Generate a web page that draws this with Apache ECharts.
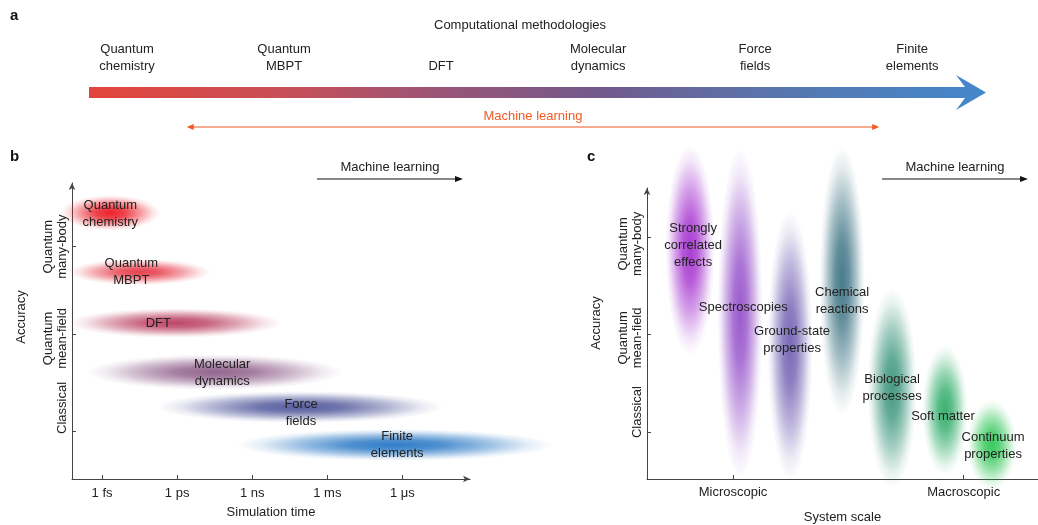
<!DOCTYPE html>
<html>
<head>
<meta charset="utf-8">
<script src="https://cdn.jsdelivr.net/npm/echarts@6/dist/echarts.min.js"></script>
<style>
  html, body { margin: 0; padding: 0; background: #fff; }
  #chart { width: 1038px; height: 525px; }
</style>
</head>
<body>
<div id="chart"></div>
<script>
// a: computational methodologies along the scale arrow
const methodNames = ['Quantum\nchemistry', 'Quantum\nMBPT', 'DFT', 'Molecular\ndynamics', 'Force\nfields', 'Finite\nelements'];
const methodPos = [1, 2, 3, 4, 5, 6];
const mlRange = [1.38, 5.79];

// b: accuracy vs simulation time
const timeTicks = [1, 2, 3, 4, 5];
const timeLabels = ['1 fs', '1 ps', '1 ns', '1 ms', '1 μs'];
const accNames = ['Classical', 'Quantum\nmean-field', 'Quantum\nmany-body'];
const accTicksB = [1.6, 4.9, 7.85];
const accLabelPosB = [2.4, 4.75, 7.85];
const bX = [1.11, 1.50, 1.97, 2.50, 3.64, 4.90];
const bY = [8.99, 6.99, 5.27, 3.61, 2.43, 1.15];
const bSpreadX = [0.66, 0.95, 1.42, 1.70, 1.90, 2.10];
const bSpreadY = [0.60, 0.44, 0.50, 0.60, 0.54, 0.54];
const bLabelX = [1.11, 1.39, 1.75, 2.60, 3.65, 4.93];
const bLabelY = [8.95, 6.99, 5.27, 3.58, 2.23, 1.15];

// c: accuracy vs system scale
const scaleTicks = [2.2, 8.1];
const scaleLabels = ['Microscopic', 'Macroscopic'];
const accTicksC = [1.62, 4.98, 8.32];
const accLabelPosC = [2.3, 4.85, 8.08];
const appNames = ['Strongly\ncorrelated\neffects', 'Spectroscopies', 'Ground-state\nproperties', 'Chemical\nreactions', 'Biological\nprocesses', 'Soft matter', 'Continuum\nproperties'];
const cX = [1.10, 2.38, 3.66, 4.99, 6.27, 7.62, 8.82];
const cY = [7.87, 5.70, 4.60, 6.80, 3.13, 2.37, 1.17];
const cSpreadX = [0.63, 0.58, 0.58, 0.58, 0.63, 0.58, 0.63];
const cSpreadY = [3.61, 5.67, 4.64, 4.64, 3.44, 2.23, 1.55];
const cLabelX = [1.18, 2.46, 3.71, 4.99, 6.27, 7.57, 8.85];
const cLabelY = [8.04, 5.91, 4.78, 6.12, 3.13, 2.16, 1.13];

// colours [r, g, b, alpha]
const bColors = [[235, 35, 45, 1], [228, 45, 60, 0.9], [178, 40, 78, 0.85], [122, 64, 116, 0.8], [58, 66, 142, 0.85], [38, 118, 196, 0.95]];
const cColors = [[160, 40, 205, 0.9], [138, 62, 196, 0.85], [98, 80, 170, 0.85], [40, 100, 118, 0.85], [38, 138, 108, 0.85], [38, 168, 98, 0.9], [38, 195, 78, 0.9]];

const FONT = 'Liberation Sans, Arial, sans-serif';
const INK = '#222';
const AXIS = '#444';

function pick(vals, names) {
  return function (v) {
    const i = vals.findIndex(x => Math.abs(x - v) < 1e-6);
    return i < 0 ? '' : names[i];
  };
}

function glow(c) {
  const f = k => 'rgba(' + c[0] + ',' + c[1] + ',' + c[2] + ',' + (c[3] * k).toFixed(3) + ')';
  return {
    type: 'radial', x: 0.5, y: 0.5, r: 0.5,
    colorStops: [
      { offset: 0, color: f(1) },
      { offset: 0.3, color: f(0.85) },
      { offset: 0.6, color: f(0.48) },
      { offset: 0.85, color: f(0.13) },
      { offset: 1, color: f(0) }
    ]
  };
}

function blobs(names, colors) {
  return function (params, api) {
    const i = params.dataIndex;
    const c = api.coord([api.value(0), api.value(1)]);
    const s = api.size([api.value(2), api.value(3)]);
    const l = api.coord([api.value(4), api.value(5)]);
    return {
      type: 'group',
      children: [
        {
          type: 'circle', x: c[0], y: c[1], scaleX: s[0] / 50, scaleY: s[1] / 50,
          shape: { cx: 0, cy: 0, r: 50 }, style: { fill: glow(colors[i]) }
        },
        {
          type: 'text', x: l[0], y: l[1], z2: 10,
          style: { text: names[i], fill: INK, font: '13px ' + FONT, lineHeight: 17, align: 'center', verticalAlign: 'middle' }
        }
      ]
    };
  };
}

function zip(a, b, c, d, e, f) {
  return a.map((v, i) => [v, b[i], c[i], d[i], e[i], f[i]]);
}

function arrow(x1, x2, y, color, text) {
  return [
    { type: 'line', shape: { x1: x1, y1: y, x2: x2 - 6, y2: y }, style: { stroke: color, lineWidth: 1 } },
    { type: 'polygon', shape: { points: [[x2, y], [x2 - 8, y - 3], [x2 - 8, y + 3]] }, style: { fill: color } },
    { type: 'text', x: (x1 + x2) / 2, y: y - 12, style: { text: text, fill: INK, font: '13px ' + FONT, align: 'center', verticalAlign: 'middle' } }
  ];
}

const chart = echarts.init(document.getElementById('chart'));

const yAcc = (grid, ticks, labelPos, gapPad) => ({
  gridIndex: grid, type: 'value', min: 0, max: 10,
  name: 'Accuracy', nameLocation: 'middle', nameGap: 44,
  nameTextStyle: { color: INK, fontSize: 13, fontFamily: FONT, padding: [0, 0, 0, gapPad] },
  axisLine: { show: true, lineStyle: { color: AXIS, width: 1 }, symbol: ['none', 'arrow'], symbolSize: [5, 7] },
  axisTick: { show: true, inside: true, length: 4, customValues: ticks, lineStyle: { color: AXIS } },
  axisLabel: {
    customValues: labelPos, rotate: 90, margin: 3, color: INK, fontSize: 13, lineHeight: 14, fontFamily: FONT,
    formatter: pick(labelPos, accNames)
  },
  splitLine: { show: false }
});

const option = {
  animation: false,
  textStyle: { fontFamily: FONT },
  grid: [
    { left: 89, right: 52, top: 87, height: 11, outerBoundsMode: 'none' },
    { left: 72, width: 398, top: 183, height: 296, outerBoundsMode: 'none' },
    { left: 647, right: 0, top: 188, height: 291, outerBoundsMode: 'none' }
  ],
  xAxis: [
    {
      gridIndex: 0, type: 'value', position: 'top', min: 0.758, max: 6.47,
      axisLine: { show: false }, splitLine: { show: false },
      axisTick: { show: true, length: 4, customValues: methodPos, lineStyle: { color: '#666' } },
      axisLabel: { customValues: methodPos, margin: 12, color: INK, fontSize: 13, lineHeight: 17, formatter: pick(methodPos, methodNames) }
    },
    {
      gridIndex: 1, type: 'value', min: 0.6, max: 5.9,
      name: 'Simulation time', nameLocation: 'middle', nameGap: 27,
      nameTextStyle: { color: INK, fontSize: 13, fontFamily: FONT },
      axisLine: { show: true, onZero: false, lineStyle: { color: AXIS, width: 1 }, symbol: ['none', 'arrow'], symbolSize: [5, 7] },
      axisTick: { show: true, inside: true, length: 4, customValues: timeTicks, lineStyle: { color: AXIS } },
      axisLabel: { customValues: timeTicks, margin: 8, color: INK, fontSize: 13, formatter: pick(timeTicks, timeLabels) },
      splitLine: { show: false }
    },
    {
      gridIndex: 2, type: 'value', min: 0, max: 10,
      name: 'System scale', nameLocation: 'middle', nameGap: 32,
      nameTextStyle: { color: INK, fontSize: 13, fontFamily: FONT },
      axisLine: { show: true, onZero: false, lineStyle: { color: AXIS, width: 1 } },
      axisTick: { show: true, inside: true, length: 4, customValues: scaleTicks, lineStyle: { color: AXIS } },
      axisLabel: { customValues: scaleTicks, margin: 7, color: INK, fontSize: 13, formatter: pick(scaleTicks, scaleLabels) },
      splitLine: { show: false }
    }
  ],
  yAxis: [
    { gridIndex: 0, type: 'value', min: 0, max: 1, show: false },
    yAcc(1, accTicksB, accLabelPosB, 28),
    yAcc(2, accTicksC, accLabelPosC, 21)
  ],
  graphic: [
    { type: 'text', left: 10, top: 8, style: { text: 'a', fill: '#111', font: 'bold 15px ' + FONT } },
    { type: 'text', left: 10, top: 149, style: { text: 'b', fill: '#111', font: 'bold 15px ' + FONT } },
    { type: 'text', left: 587, top: 149, style: { text: 'c', fill: '#111', font: 'bold 15px ' + FONT } },
    { type: 'text', x: 520, y: 25, style: { text: 'Computational methodologies', fill: INK, font: '13px ' + FONT, align: 'center', verticalAlign: 'middle' } },
    { type: 'group', children: arrow(317, 463, 179, '#111', 'Machine learning') },
    { type: 'group', children: arrow(882, 1028, 179, '#111', 'Machine learning') }
  ],
  series: [
    {
      type: 'custom', xAxisIndex: 0, yAxisIndex: 0, silent: true,
      data: [[0]],
      renderItem: function (params) {
        const r = params.coordSys;
        const x0 = r.x, x1 = r.x + r.width, y0 = r.y, y1 = r.y + r.height, ym = (y0 + y1) / 2;
        return {
          type: 'polygon',
          shape: { points: [[x0, y0], [x1 - 21, y0], [x1 - 30, ym - 17.5], [x1, ym], [x1 - 30, ym + 17.5], [x1 - 21, y1], [x0, y1]] },
          style: {
            fill: {
              type: 'linear', x: 0, y: 0, x2: 1, y2: 0,
              colorStops: [
                { offset: 0, color: '#e4453b' },
                { offset: 0.22, color: '#c75058' },
                { offset: 0.4, color: '#985478' },
                { offset: 0.57, color: '#72598c' },
                { offset: 0.75, color: '#5a74ab' },
                { offset: 1, color: '#4388cc' }
              ]
            }
          }
        };
      }
    },
    {
      type: 'custom', xAxisIndex: 0, yAxisIndex: 0, silent: true,
      data: [mlRange],
      renderItem: function (params, api) {
        const a = api.coord([api.value(0), 0]);
        const b = api.coord([api.value(1), 0]);
        const y = a[1] + 29;
        const col = '#f15a24';
        return {
          type: 'group',
          children: [
            { type: 'line', shape: { x1: a[0] + 5, y1: y, x2: b[0] - 5, y2: y }, style: { stroke: col, lineWidth: 1 } },
            { type: 'polygon', shape: { points: [[a[0], y], [a[0] + 7, y - 3], [a[0] + 7, y + 3]] }, style: { fill: col } },
            { type: 'polygon', shape: { points: [[b[0], y], [b[0] - 7, y - 3], [b[0] - 7, y + 3]] }, style: { fill: col } },
            { type: 'text', x: (a[0] + b[0]) / 2, y: y - 11, style: { text: 'Machine learning', fill: col, font: '13px ' + FONT, align: 'center', verticalAlign: 'middle' } }
          ]
        };
      }
    },
    {
      type: 'custom', xAxisIndex: 1, yAxisIndex: 1, silent: true, clip: false,
      data: zip(bX, bY, bSpreadX, bSpreadY, bLabelX, bLabelY),
      renderItem: blobs(methodNames, bColors)
    },
    {
      type: 'custom', xAxisIndex: 2, yAxisIndex: 2, silent: true, clip: false,
      data: zip(cX, cY, cSpreadX, cSpreadY, cLabelX, cLabelY),
      renderItem: blobs(appNames, cColors)
    }
  ]
};

chart.setOption(option);
</script>
</body>
</html>
